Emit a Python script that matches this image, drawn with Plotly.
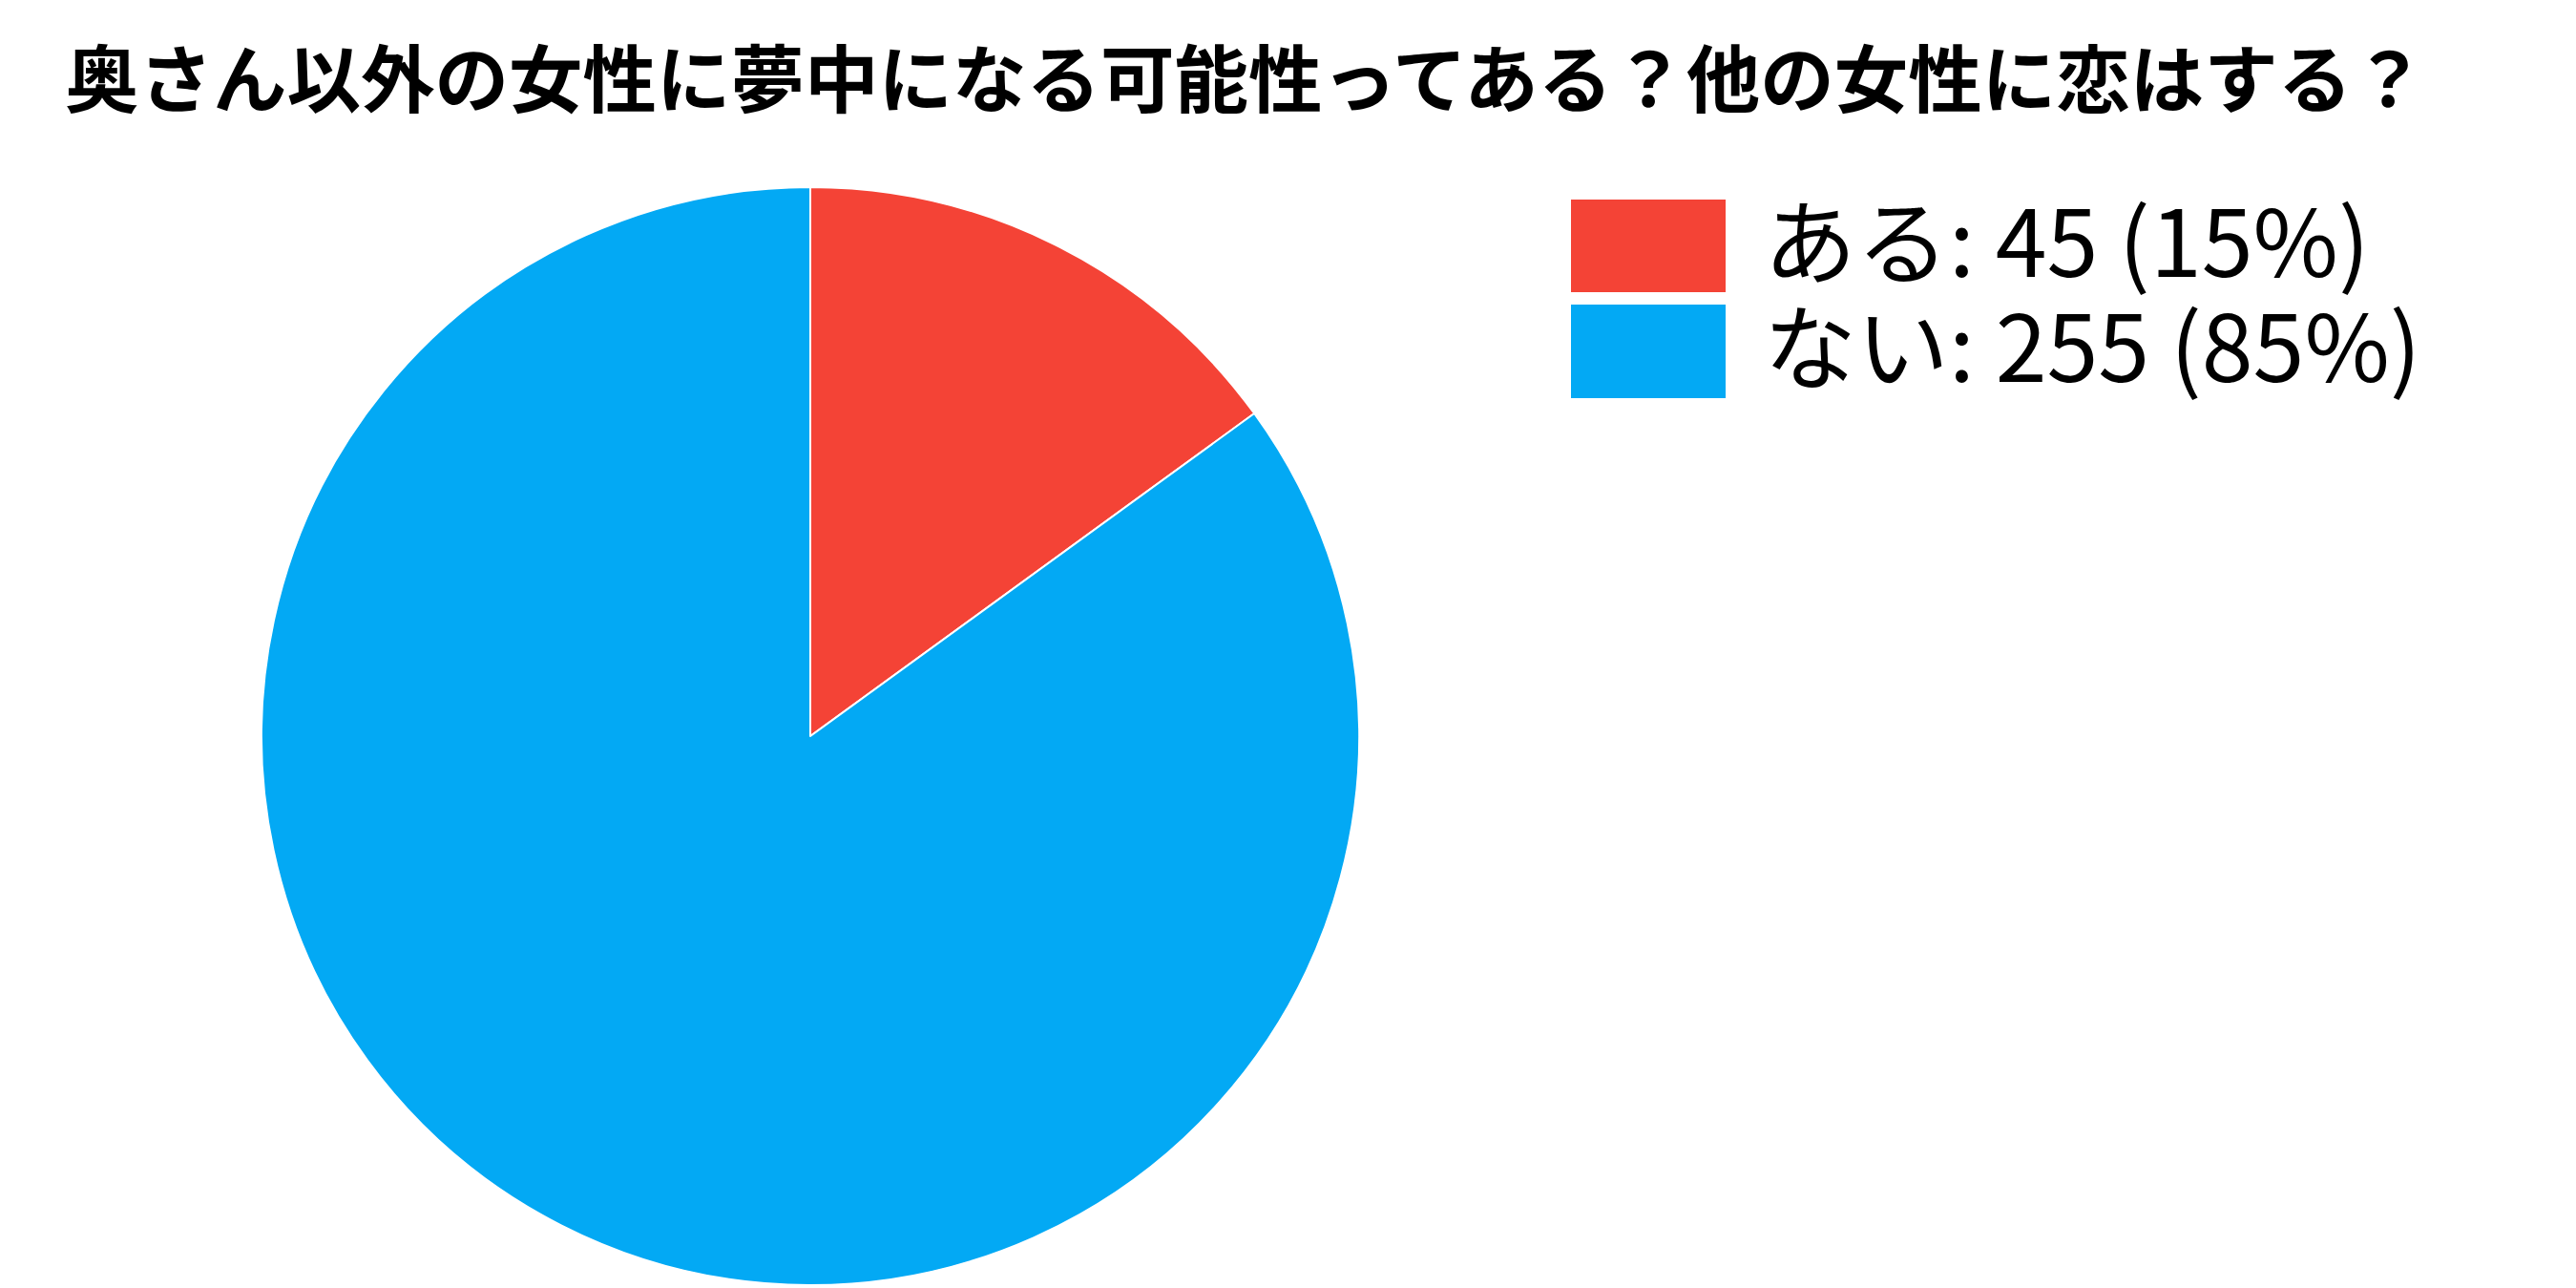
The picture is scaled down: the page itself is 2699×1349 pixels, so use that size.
import plotly.graph_objects as go

title_text = "奥さん以外の女性に夢中になる可能性ってある？他の女性に恋はする？"
labels = ["ある", "ない"]
values = [45, 255]
colors = ["#F44336", "#03A9F4"]

W, H = 2699, 1349
total = sum(values)

fig = go.Figure()
fig.add_trace(go.Pie(
    labels=labels,
    values=values,
    sort=False,
    direction="clockwise",
    rotation=0,
    marker=dict(colors=colors, line=dict(color="white", width=2)),
    textinfo="none",
    hoverinfo="label+value+percent",
    showlegend=False,
    domain=dict(x=[266 / W, 1416 / W], y=[1 - 1338 / H, 1 - 188 / H]),
))

# title
fig.add_annotation(
    text="<b>" + title_text + "</b>",
    xref="paper", yref="paper",
    x=58 / W, y=1 - 70 / H,
    xanchor="left", yanchor="middle",
    showarrow=False,
    font=dict(family="Noto Sans CJK JP", size=77.5, color="black"),
)

# custom legend
sw_x0, sw_x1 = 1638, 1800
rows = [(201, 298), (311, 409)]
for (lab, val, col, (y0, y1)) in zip(labels, values, colors, rows):
    fig.add_shape(
        type="rect", xref="paper", yref="paper",
        x0=sw_x0 / W, x1=sw_x1 / W, y0=1 - y1 / H, y1=1 - y0 / H,
        fillcolor=col, line=dict(width=0),
    )
    pct = round(val / total * 100)
    fig.add_annotation(
        text=f"{lab}: {val} ({pct}%)",
        xref="paper", yref="paper",
        x=1838 / W, y=1 - ((y0 + y1) / 2 - 10) / H,
        xanchor="left", yanchor="middle",
        showarrow=False,
        font=dict(family="Noto Sans CJK JP", size=97, color="black"),
    )

fig.update_layout(
    width=W, height=H,
    margin=dict(l=0, r=0, t=0, b=0),
    paper_bgcolor="white",
    plot_bgcolor="white",
)

fig.write_html("out.html")
